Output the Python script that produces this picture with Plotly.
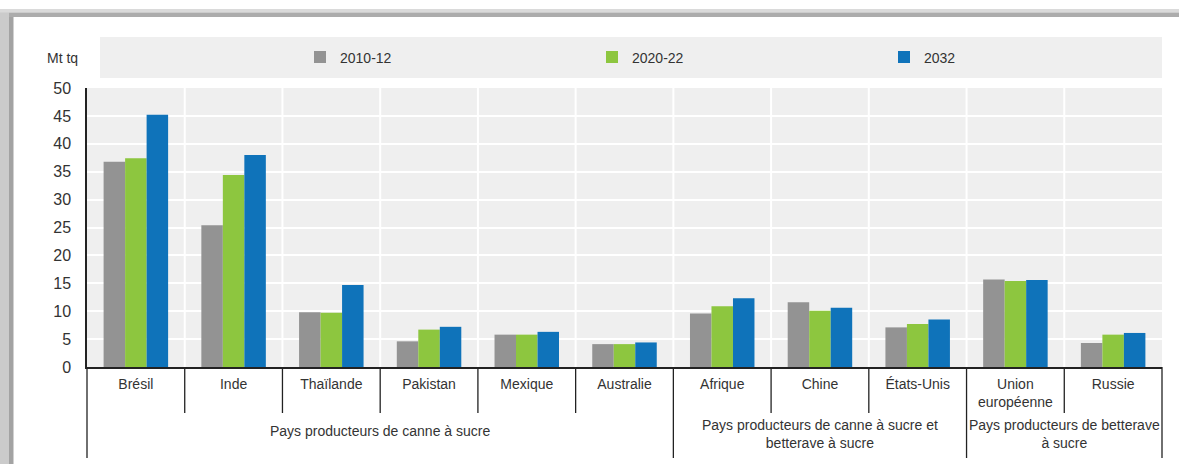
import plotly.graph_objects as go

countries = ["Brésil", "Inde", "Thaïlande", "Pakistan", "Mexique", "Australie",
             "Afrique", "Chine", "États-Unis", "Union<br>européenne", "Russie"]
series_names = ["2010-12", "2020-22", "2032"]
v_2010_12 = [36.8, 25.4, 9.8, 4.6, 5.8, 4.1, 9.6, 11.6, 7.1, 15.7, 4.3]
v_2020_22 = [37.4, 34.4, 9.7, 6.7, 5.8, 4.1, 10.9, 10.1, 7.7, 15.4, 5.8]
v_2032 = [45.2, 38.0, 14.7, 7.2, 6.3, 4.4, 12.3, 10.6, 8.5, 15.6, 6.1]
colors = ["#939393", "#8DC63F", "#0F73BA"]

group_labels = ["Pays producteurs de canne à sucre",
                "Pays producteurs de canne à sucre et<br>betterave à sucre",
                "Pays producteurs de betterave<br>à sucre"]
group_centers = [2.5, 7.0, 9.5]
group_bounds = [-0.5, 5.5, 8.5, 10.5]

W, H = 1179, 464
ML, MR, MT, MB = 87, 17, 88, 97
PW, PH = W - ML - MR, H - MT - MB


def px2x(px):
    return (px - ML) / PW


def py2y(py):
    return (H - MB - py) / PH


FONT = "Arial, Liberation Sans, sans-serif"
TXT = "#333333"

fig = go.Figure()
for name, vals, col in zip(series_names, [v_2010_12, v_2020_22, v_2032], colors):
    fig.add_trace(go.Bar(x=countries, y=vals, name=name, marker=dict(color=col, line=dict(width=0))))

shapes = []
# frame shadow (left and top)
shapes.append(dict(type="rect", xref="paper", yref="paper", x0=px2x(0), x1=px2x(9), y0=py2y(470), y1=py2y(10),
                   fillcolor="#cbcbcb", line=dict(width=0), layer="below"))
shapes.append(dict(type="rect", xref="paper", yref="paper", x0=px2x(9), x1=px2x(13.5), y0=py2y(470), y1=py2y(15),
                   fillcolor="#a3a3a3", line=dict(width=0), layer="below"))
shapes.append(dict(type="rect", xref="paper", yref="paper", x0=px2x(0), x1=px2x(1185), y0=py2y(12.5), y1=py2y(9),
                   fillcolor="#dadada", line=dict(width=0), layer="below"))
shapes.append(dict(type="rect", xref="paper", yref="paper", x0=px2x(9), x1=px2x(1185), y0=py2y(17), y1=py2y(12.5),
                   fillcolor="#acacac", line=dict(width=0), layer="below"))
# legend band
shapes.append(dict(type="rect", xref="paper", yref="paper", x0=px2x(100), x1=px2x(1162), y0=py2y(78), y1=py2y(37),
                   fillcolor="#efefef", line=dict(width=0), layer="below"))
# white vertical gridlines between categories
for i in range(10):
    shapes.append(dict(type="line", xref="x", yref="paper", x0=i + 0.5, x1=i + 0.5, y0=0, y1=1,
                       line=dict(color="white", width=2), layer="below"))
# separators below axis
for b in [i - 0.5 for i in range(12)]:
    length = 91 if b in group_bounds else 46
    xp = px2x(ML + (b + 0.5) * PW / 11.0)
    shapes.append(dict(type="line", xref="paper", yref="paper",
                       x0=xp, x1=xp, y0=0, y1=py2y(H - MB + length), line=dict(color="#222222", width=1.3)))

annotations = [
    dict(text="Mt tq", xref="paper", yref="paper", x=px2x(62), y=py2y(58), showarrow=False,
         font=dict(size=14, color=TXT, family=FONT), xanchor="center", yanchor="middle"),
]
for lab, cx in zip(group_labels, group_centers):
    nlines = lab.count("<br>") + 1
    annotations.append(dict(text=lab, xref="x", yref="paper", x=cx, y=py2y(434 if nlines > 1 else 431),
                            showarrow=False, xanchor="center", yanchor="middle",
                            font=dict(size=14, color=TXT, family=FONT)))

fig.update_layout(
    width=W, height=H,
    margin=dict(l=ML, r=MR, t=MT, b=MB, pad=0, autoexpand=False),
    paper_bgcolor="white", plot_bgcolor="#efefef",
    barmode="group", bargap=0.34, bargroupgap=0,
    font=dict(family=FONT, color=TXT, size=14),
    shapes=shapes, annotations=annotations,
    showlegend=True,
    legend=dict(orientation="h", x=px2x(300), xanchor="left", y=py2y(57.5), yanchor="middle",
                bgcolor="rgba(0,0,0,0)", font=dict(size=14, color=TXT, family=FONT),
                entrywidth=247, entrywidthmode="pixels", itemwidth=30, traceorder="normal",
                itemclick=False, itemdoubleclick=False),
    xaxis=dict(type="category", range=[-0.5, 10.5], showgrid=False, showline=True, automargin=False,
               linecolor="#222222", linewidth=1.5, ticks="", ticklabelstandoff=3,
               tickfont=dict(size=14, color=TXT, family=FONT), zeroline=False, fixedrange=True),
    yaxis=dict(range=[0, 50], dtick=5, tick0=0, showgrid=True, gridcolor="white", gridwidth=2,
               showline=True, linecolor="#222222", linewidth=1.5, ticks="", ticklabelstandoff=11,
               automargin=False,
               tickfont=dict(size=16, color=TXT, family=FONT), zeroline=False, fixedrange=True),
)

fig.write_html("out.html", config={"displayModeBar": False},
               post_script="document.body.style.margin='0';document.body.style.overflow='hidden';")
